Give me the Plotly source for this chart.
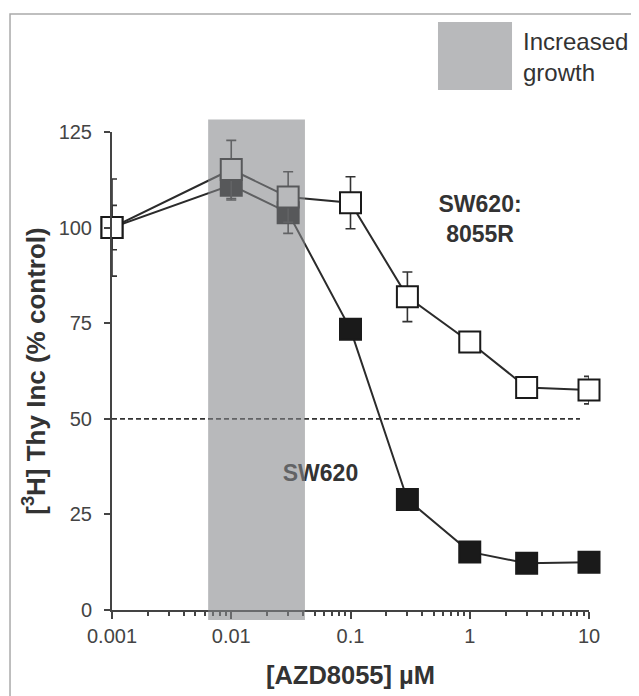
import plotly.graph_objects as go

# ---------------- data ----------------
conc_um = [0.001, 0.01, 0.03, 0.1, 0.3, 1, 3, 10]
sw620_8055r = [100, 115.2, 108.0, 106.5, 81.9, 70.1, 58.2, 57.5]
sw620_8055r_err = [12.7, 7.6, 6.6, 6.8, 6.5, 0, 0, 3.6]
sw620 = [100, 111.1, 103.9, 73.4, 28.9, 15.2, 12.2, 12.5]
sw620_err = [5.8, 3.9, 5.4, 0, 0, 0, 0, 0]

threshold = 50
threshold_x = [0.001, 8.4]

band_x = [0.0064, 0.0415]       # "Increased growth" concentration window
band_y = [-2.6, 128.3]

x_tickvals = [0.001, 0.01, 0.1, 1, 10]
x_ticktext = ["0.001", "0.01", "0.1", "1", "10"]
y_tickvals = [0, 25, 50, 75, 100, 125]

label_resist = "SW620:<br>8055R"
label_resist_pos = (1.22, 101.7)
label_parent = "SW620"
label_parent_pos = (0.056, 35.3)
legend_text = "Increased<br>growth"

FONT = "Liberation Sans, Arial, sans-serif"
INK = "#2b2b2b"

fig = go.Figure()

# threshold dashed line
fig.add_trace(go.Scatter(
    x=threshold_x, y=[threshold, threshold], mode="lines",
    line=dict(color="#333333", width=1.8, dash="5px,3px"),
    hoverinfo="skip", showlegend=False, cliponaxis=False))

# SW620 (filled squares)
fig.add_trace(go.Scatter(
    x=conc_um, y=sw620, mode="lines+markers",
    line=dict(color=INK, width=2),
    marker=dict(symbol="square", size=21, color="#1a1a1a",
                line=dict(color="#1a1a1a", width=2)),
    error_y=dict(type="data", array=sw620_err, visible=True,
                 color="#333333", thickness=1.6, width=5),
    cliponaxis=False, showlegend=False))

# SW620:8055R (open squares)
fig.add_trace(go.Scatter(
    x=conc_um, y=sw620_8055r, mode="lines+markers",
    line=dict(color=INK, width=2),
    marker=dict(symbol="square", size=21, color="white",
                line=dict(color="#1a1a1a", width=2)),
    error_y=dict(type="data", array=sw620_8055r_err, visible=True,
                 color="#333333", thickness=1.6, width=5),
    cliponaxis=False, showlegend=False))

# text labels (as traces so the band overlays them)
fig.add_trace(go.Scatter(
    x=[label_resist_pos[0]], y=[label_resist_pos[1]], mode="text",
    text=[label_resist], textposition="middle center",
    textfont=dict(family=FONT, size=23, color="#333333", weight="bold"),
    hoverinfo="skip", showlegend=False, cliponaxis=False))
fig.add_trace(go.Scatter(
    x=[label_parent_pos[0]], y=[label_parent_pos[1]], mode="text",
    text=[label_parent], textposition="middle center",
    textfont=dict(family=FONT, size=23, color="#333333", weight="bold"),
    hoverinfo="skip", showlegend=False, cliponaxis=False))

# translucent "Increased growth" band drawn over the data
fig.add_shape(type="rect", xref="x", yref="y domain",
              x0=band_x[0], x1=band_x[1],
              y0=band_y[0] / 125, y1=band_y[1] / 125,
              fillcolor="rgba(133,134,137,0.58)", line=dict(width=0),
              layer="above")

# outer frame (top & left visible)
fig.add_shape(type="rect", xref="paper", yref="paper",
              x0=-0.2138, x1=1.15, y0=-0.23, y1=1.2469,
              line=dict(color="#aaaaaa", width=1.5), fillcolor="rgba(0,0,0,0)",
              layer="below")

# legend swatch + text
fig.add_shape(type="rect", xref="paper", yref="paper",
              x0=0.6834, x1=0.8386, y0=1.0879, y1=1.2301,
              fillcolor="rgb(184,185,187)", line=dict(width=0))
fig.add_annotation(xref="paper", yref="paper", x=0.8575, y=1.1569,
                   text=legend_text, showarrow=False, xanchor="left",
                   yanchor="middle", align="left",
                   font=dict(family=FONT, size=24, color="#333333"))

# page body has an 8px margin, so the figure is 8px smaller than the window
fig.update_layout(
    width=631, height=688,
    margin=dict(l=104, r=50, t=124, b=86),
    paper_bgcolor="white", plot_bgcolor="white",
    font=dict(family=FONT, color="#444444"),
    showlegend=False,
)

fig.update_xaxes(
    type="log", range=[-3, 1],
    tickmode="array", tickvals=x_tickvals, ticktext=x_ticktext,
    showline=True, linecolor="#444444", linewidth=2,
    ticks="outside", ticklen=7, tickwidth=2, tickcolor="#444444",
    minor=dict(ticks="outside", ticklen=4, tickwidth=1.5,
               tickcolor="#444444", dtick="D1", showgrid=False),
    showgrid=False, zeroline=False,
    tickfont=dict(family=FONT, size=20, color="#444444"),
    title=dict(text="[AZD8055] µM", standoff=20,
               font=dict(family=FONT, size=25.5, color="#333333", weight="bold")),
)
fig.update_yaxes(
    range=[0, 125], tickmode="array", tickvals=y_tickvals,
    showline=True, linecolor="#444444", linewidth=2,
    ticks="outside", ticklen=6, tickwidth=2, tickcolor="#444444",
    ticklabelstandoff=8,
    showgrid=False, zeroline=False,
    tickfont=dict(family=FONT, size=20, color="#444444"),
    title=dict(text="[<sup>3</sup>H] Thy Inc (% control)", standoff=6,
               font=dict(family=FONT, size=26, color="#333333", weight="bold")),
)

fig.write_html("out.html")
